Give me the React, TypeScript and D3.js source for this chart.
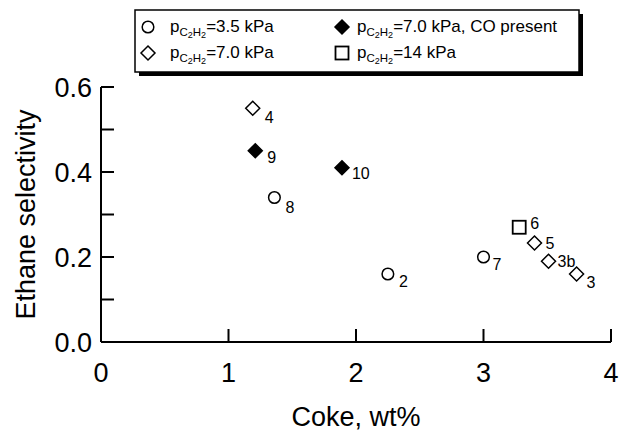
import React, { useEffect, useRef } from "react";
import * as d3 from "d3";

// data
const circleX = [2.25, 3.0, 1.36];
const circleY = [0.16, 0.2, 0.34];
const circleLabels = ["2", "7", "8"];

const diamondX = [1.19, 3.4, 3.51, 3.73];
const diamondY = [0.55, 0.233, 0.19, 0.16];
const diamondLabels = ["4", "5", "3b", "3"];

const filledX = [1.21, 1.89];
const filledY = [0.45, 0.41];
const filledLabels = ["9", "10"];

const squareX = [3.28];
const squareY = [0.27];
const squareLabels = ["6"];

const xTicks = [0, 1, 2, 3, 4];
const yTicks = [0, 0.1, 0.2, 0.3, 0.4, 0.5, 0.6];
const yLabelTicks = [0, 0.2, 0.4, 0.6];

const legendItems = [
  { shape: "circle", text: "=3.5 kPa" },
  { shape: "diamond", text: "=7.0 kPa" },
  { shape: "filled", text: "=7.0 kPa, CO present" },
  { shape: "square", text: "=14 kPa" },
];

// label offsets (px) from each marker, just layout
const labelOffsets: Record<string, [number, number]> = {
  "2": [11, 13],
  "7": [9, 13],
  "8": [11, 15],
  "4": [12, 15],
  "5": [11, 6],
  "3b": [9, 6],
  "3": [10, 14],
  "9": [12, 12],
  "10": [10, 11],
  "6": [11, 2],
};

const FONT = "'Liberation Sans', Arial, Helvetica, sans-serif";

const App = () => {
  const svgRef = useRef<SVGSVGElement>(null);

  useEffect(() => {
    const width = 619;
    const height = 433;
    const svg = d3.select(svgRef.current);
    svg.selectAll("*").remove();
    svg.attr("width", width).attr("height", height);

    const x = d3.scaleLinear().domain([0, 4]).range([101, 611]);
    const y = d3.scaleLinear().domain([0, 0.6]).range([342, 87]);

    const g = svg.append("g").attr("font-family", FONT);

    // axes lines
    g.append("line")
      .attr("x1", x(0)).attr("x2", x(4))
      .attr("y1", y(0)).attr("y2", y(0))
      .attr("stroke", "#000").attr("stroke-width", 2);
    g.append("line")
      .attr("x1", x(0)).attr("x2", x(0))
      .attr("y1", y(0)).attr("y2", y(0.6))
      .attr("stroke", "#000").attr("stroke-width", 2);

    // x ticks (inward)
    g.selectAll(".xt")
      .data(xTicks.slice(1))
      .enter()
      .append("line")
      .attr("x1", (d) => x(d)).attr("x2", (d) => x(d))
      .attr("y1", y(0)).attr("y2", y(0) - 13)
      .attr("stroke", "#000").attr("stroke-width", 2);
    g.selectAll(".xl")
      .data(xTicks)
      .enter()
      .append("text")
      .attr("x", (d) => x(d))
      .attr("y", y(0) + 40)
      .attr("text-anchor", "middle")
      .attr("font-size", 27)
      .text((d) => d3.format("d")(d));

    // y ticks (inward)
    g.selectAll(".yt")
      .data(yTicks.slice(1))
      .enter()
      .append("line")
      .attr("x1", x(0)).attr("x2", x(0) + 13)
      .attr("y1", (d) => y(d)).attr("y2", (d) => y(d))
      .attr("stroke", "#000").attr("stroke-width", 2);
    g.selectAll(".yl")
      .data(yLabelTicks)
      .enter()
      .append("text")
      .attr("x", x(0) - 9)
      .attr("y", (d) => y(d) + 10)
      .attr("text-anchor", "end")
      .attr("font-size", 27)
      .text((d) => d3.format(".1f")(d));

    // axis titles
    g.append("text")
      .attr("x", (x(0) + x(4)) / 2)
      .attr("y", 426)
      .attr("text-anchor", "middle")
      .attr("font-size", 27)
      .text("Coke, wt%");
    g.append("text")
      .attr("transform", `translate(35,${(y(0) + y(0.6)) / 2}) rotate(-90)`)
      .attr("text-anchor", "middle")
      .attr("font-size", 27)
      .text("Ethane selectivity");

    // marker drawing helper
    const drawMarker = (sel, shape: string, cx: number, cy: number) => {
      if (shape === "circle") {
        sel.append("circle")
          .attr("cx", cx).attr("cy", cy).attr("r", 5.8)
          .attr("fill", "#fff").attr("stroke", "#000").attr("stroke-width", 1.5);
      } else if (shape === "square") {
        sel.append("rect")
          .attr("x", cx - 6.5).attr("y", cy - 6.5)
          .attr("width", 13).attr("height", 13)
          .attr("fill", "#fff").attr("stroke", "#000").attr("stroke-width", 1.8);
      } else {
        const r = 7;
        sel.append("path")
          .attr("d", `M${cx},${cy - r}L${cx + r},${cy}L${cx},${cy + r}L${cx - r},${cy}Z`)
          .attr("fill", shape === "filled" ? "#000" : "#fff")
          .attr("stroke", "#000").attr("stroke-width", 1.5);
      }
    };

    const groups = [
      { shape: "circle", xs: circleX, ys: circleY, labels: circleLabels },
      { shape: "diamond", xs: diamondX, ys: diamondY, labels: diamondLabels },
      { shape: "filled", xs: filledX, ys: filledY, labels: filledLabels },
      { shape: "square", xs: squareX, ys: squareY, labels: squareLabels },
    ];

    const pts = g.append("g");
    groups.forEach((grp) => {
      grp.xs.forEach((xv, i) => {
        const cx = x(xv);
        const cy = y(grp.ys[i]);
        drawMarker(pts, grp.shape, cx, cy);
        const lab = grp.labels[i];
        const off = labelOffsets[lab] || [10, 10];
        pts.append("text")
          .attr("x", cx + off[0])
          .attr("y", cy + off[1])
          .attr("font-size", 16)
          .text(lab);
      });
    });

    // legend
    const leg = g.append("g");
    leg.append("rect")
      .attr("x", 139).attr("y", 14)
      .attr("width", 444).attr("height", 62)
      .attr("fill", "#000");
    leg.append("rect")
      .attr("x", 135).attr("y", 10)
      .attr("width", 444).attr("height", 62)
      .attr("fill", "#fff").attr("stroke", "#000").attr("stroke-width", 1.5);

    const colMarker = [148, 342];
    const colText = [170, 357];
    const rowMarker = [27, 53];
    const rowBase = [32, 58];
    legendItems.forEach((item, i) => {
      const col = i < 2 ? 0 : 1;
      const row = i % 2;
      drawMarker(leg, item.shape, colMarker[col], rowMarker[row]);
      const t = leg.append("text")
        .attr("x", colText[col])
        .attr("y", rowBase[row])
        .attr("font-size", 17);
      t.append("tspan").text("p");
      t.append("tspan").attr("font-size", 11.5).attr("dy", 4).text("C");
      t.append("tspan").attr("font-size", 9).attr("dy", 2).text("2");
      t.append("tspan").attr("font-size", 11.5).attr("dy", -2).text("H");
      t.append("tspan").attr("font-size", 9).attr("dy", 2).text("2");
      t.append("tspan").attr("dy", -6).text(item.text);
    });
  }, []);

  return (
    <div>
      <svg
        ref={svgRef}
        style={{ position: "absolute", left: 0, top: 0, background: "#fff" }}
      ></svg>
    </div>
  );
};

export default App;
